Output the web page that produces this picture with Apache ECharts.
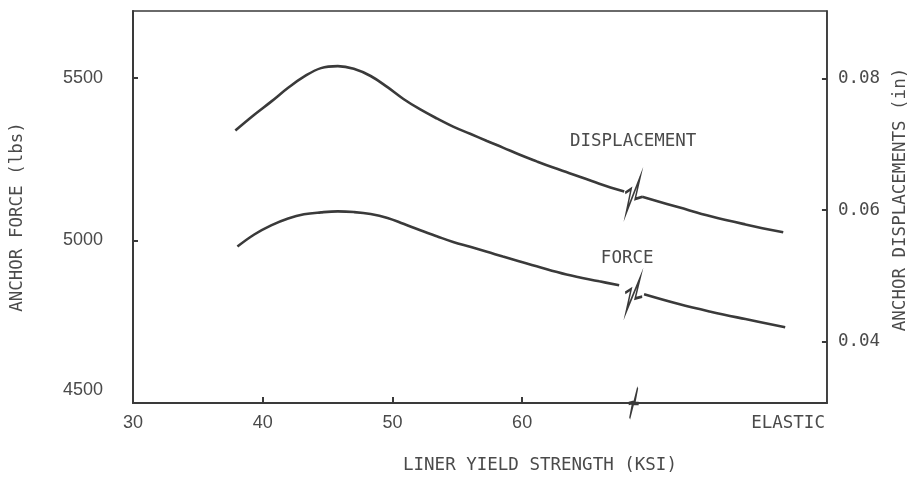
<!DOCTYPE html>
<html>
<head>
<meta charset="utf-8">
<script src="https://cdn.jsdelivr.net/npm/echarts@6/dist/echarts.min.js"></script>
<style>
html,body{margin:0;padding:0;background:#fff;}
#chart{width:917px;height:479px;}
</style>
</head>
<body>
<div id="chart"></div>
<script>
// Liner yield strength (KSI); values beyond the break represent the "ELASTIC" end
var dispLeftX  = [37.89, 39.35, 40.65, 41.96, 43.18, 44.49, 45.79, 47.02, 48.32, 49.62, 50.85, 52.15, 53.46, 54.68, 55.99, 57.29, 58.52, 59.82, 61.12, 62.34, 63.65, 65.95, 67.87];
var dispLeftY  = [0.0721, 0.0745, 0.0765, 0.0786, 0.0803, 0.0816, 0.0819, 0.0815, 0.0804, 0.0787, 0.0769, 0.0753, 0.0739, 0.0727, 0.0716, 0.0705, 0.0695, 0.0684, 0.0674, 0.0665, 0.0656, 0.0640, 0.0628];
var dispRightX = [69.25, 72.08, 74.61, 77.21, 80.13];
var dispRightY = [0.0620, 0.0604, 0.0590, 0.0578, 0.0566];

var forceLeftX  = [38.05, 39.35, 40.65, 41.96, 43.18, 44.49, 45.79, 47.02, 48.32, 49.62, 50.85, 52.15, 53.46, 54.68, 55.99, 57.29, 58.52, 59.82, 61.12, 63.42, 65.95, 67.48];
var forceLeftY  = [4981, 5018, 5046, 5067, 5080, 5086, 5089, 5087, 5081, 5069, 5051, 5031, 5012, 4995, 4980, 4965, 4950, 4935, 4920, 4895, 4874, 4862];
var forceRightX = [69.4, 72.08, 74.61, 77.21, 80.28];
var forceRightY = [4834, 4804, 4780, 4758, 4733];

var xLabelValues = [30, 40, 50, 60, 80.5];
var xLabelTexts  = ['30', '40', '50', '60', 'ELASTIC'];
var xTickValues  = [40, 50, 60];
var leftLabelValues  = [4500, 5000, 5500];
var leftTickValues   = [5000, 5500];
var rightLabelValues = [0.04, 0.06, 0.08];

var breakX = 68.6;
var dispBreakY = 0.0623;
var forceBreakY = 4833;

function pairs(xs, ys){ return xs.map(function(x,i){ return [x, ys[i]]; }); }

var INK = '#3a3a3a';
var TXT = '#4a4a4a';
var MONO = '"DejaVu Sans Mono", "Liberation Mono", monospace';
var SANS = '"Liberation Sans", Arial, sans-serif';
var breakPath = 'path://M0,16 L6,12 L1,36 L15,0 L10,22 L17,20';
var axisBreakPath = 'path://M0,16 L4,15 L1,31 L9,0 L6,16 L10,16';

var breakStyle = { color: 'rgba(0,0,0,0)', borderColor: INK, borderWidth: 2 };
var lineStyle = { color: INK, width: 2.6 };

var chart = echarts.init(document.getElementById('chart'), null, {renderer: 'canvas'});
chart.setOption({
  animation: false,
  backgroundColor: '#ffffff',
  grid: { left: 131, right: 88, top: 11, bottom: 74, show: true, borderColor: INK, borderWidth: 1.5, backgroundColor: 'transparent' },
  xAxis: {
    type: 'value', min: 30, max: 83.5,
    name: 'LINER YIELD STRENGTH (KSI)', nameLocation: 'middle', nameGap: 53,
    nameTextStyle: { fontFamily: MONO, fontSize: 17.5, color: TXT, padding: [0, 0, 0, 120] },
    axisLine: { show: true, onZero: false, lineStyle: { color: INK, width: 2 } },
    axisTick: { show: true, inside: true, length: 6, customValues: xTickValues, lineStyle: { color: INK, width: 2 } },
    axisLabel: {
      customValues: xLabelValues, margin: 11, color: TXT, fontFamily: SANS, fontSize: 18,
      formatter: function(v){
        var i = xLabelValues.indexOf(v);
        if (i < 0) return '';
        if (xLabelTexts[i] === 'ELASTIC') return '{m|ELASTIC}';
        return xLabelTexts[i];
      },
      rich: { m: { fontFamily: MONO, fontSize: 17.5, color: TXT } }
    },
    splitLine: { show: false }
  },
  yAxis: [{
    type: 'value', min: 4500, max: 5705, position: 'left',
    name: 'ANCHOR FORCE (lbs)', nameLocation: 'middle', nameGap: 107, nameRotate: 90,
    nameTextStyle: { fontFamily: MONO, fontSize: 17.5, color: TXT, padding: [0, 20, 0, 0] },
    axisLine: { show: true, lineStyle: { color: INK, width: 2 } },
    axisTick: { show: true, inside: true, length: 5, customValues: leftTickValues, lineStyle: { color: INK, width: 2 } },
    axisLabel: {
      customValues: leftLabelValues, margin: 30, color: TXT, fontFamily: SANS, fontSize: 18,
      formatter: function(v){ return v === 4500 ? '{lo|4500}' : String(v); },
      rich: { lo: { fontFamily: SANS, fontSize: 18, color: TXT, padding: [0, 0, 26, 0] } }
    },
    splitLine: { show: false }
  }, {
    type: 'value', min: 0.0306, max: 0.0903, position: 'right',
    name: 'ANCHOR DISPLACEMENTS (in)', nameLocation: 'middle', nameGap: 62, nameRotate: 90,
    nameTextStyle: { fontFamily: MONO, fontSize: 17.5, color: TXT, padding: [0, 0, 0, 15] },
    axisLine: { show: true, lineStyle: { color: INK, width: 1.6 } },
    axisTick: { show: true, inside: true, length: 5, customValues: rightLabelValues, lineStyle: { color: INK, width: 2 } },
    axisLabel: {
      customValues: rightLabelValues, margin: 11, color: TXT, fontFamily: MONO, fontSize: 17.5,
      formatter: function(v){ return v.toFixed(2); }
    },
    splitLine: { show: false }
  }],
  series: [{
    name: 'Displacement', type: 'line', yAxisIndex: 1, smooth: 0.4, showSymbol: false,
    data: pairs(dispLeftX, dispLeftY), lineStyle: lineStyle,
    markPoint: {
      silent: true,
      data: [
        { coord: [breakX, dispBreakY], symbol: breakPath, symbolSize: [17, 36], itemStyle: breakStyle, label: { show: false } },
        { coord: [68.56, 0.0704], symbol: 'circle', symbolSize: 0,
          label: { show: true, position: 'inside', formatter: 'DISPLACEMENT', fontFamily: MONO, fontSize: 17.5, color: TXT } }
      ]
    }
  }, {
    name: 'Displacement elastic', type: 'line', yAxisIndex: 1, smooth: 0.4, showSymbol: false,
    data: pairs(dispRightX, dispRightY), lineStyle: lineStyle
  }, {
    name: 'Force', type: 'line', yAxisIndex: 0, smooth: 0.4, showSymbol: false,
    data: pairs(forceLeftX, forceLeftY), lineStyle: lineStyle,
    markPoint: {
      silent: true,
      data: [
        { coord: [breakX, forceBreakY], symbol: breakPath, symbolSize: [17, 34], itemStyle: breakStyle, label: { show: false } },
        { coord: [breakX, 4500], symbol: axisBreakPath, symbolSize: [10, 31], itemStyle: breakStyle, label: { show: false } },
        { coord: [68.1, 4945], symbol: 'circle', symbolSize: 0,
          label: { show: true, position: 'inside', formatter: 'FORCE', fontFamily: MONO, fontSize: 17.5, color: TXT } }
      ]
    }
  }, {
    name: 'Force elastic', type: 'line', yAxisIndex: 0, smooth: 0.4, showSymbol: false,
    data: pairs(forceRightX, forceRightY), lineStyle: lineStyle
  }]
});
</script>
</body>
</html>
